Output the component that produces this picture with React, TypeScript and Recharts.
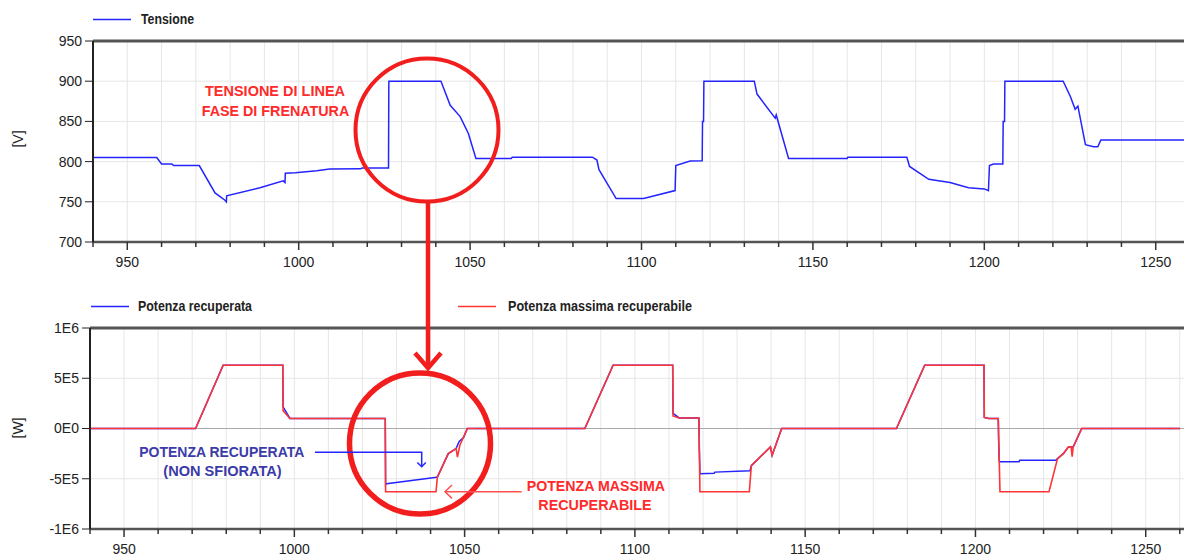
import React from "react"
import { LineChart, Line, XAxis, YAxis, CartesianGrid, ReferenceLine } from "recharts"

// time axis (s)
const xTicks = [
  940, 950, 960, 970, 980, 990, 1000, 1010, 1020, 1030, 1040, 1050, 1060, 1070, 1080, 1090, 1100,
  1110, 1120, 1130, 1140, 1150, 1160, 1170, 1180, 1190, 1200, 1210, 1220, 1230, 1240, 1250, 1260,
]
const xLabels = [950, 1000, 1050, 1100, 1150, 1200, 1250]

const vTicks = [700, 750, 800, 850, 900, 950]
const wTicks = [-1e6, -5e5, 0, 5e5, 1e6]
const wLabels = ["-1E6", "-5E5", "0E0", "5E5", "1E6"]

// [time, V]
const tensione: [number, number][] = [
  [940, 805], [958.6, 805], [960, 797], [963, 797], [963.5, 795], [971, 795], [975.6, 761],
  [978.5, 752], [978.9, 750], [979, 757.5], [988.7, 767.5], [995.5, 776], [996, 774],
  [996.1, 785.5], [999, 786], [1005.3, 788.7], [1009, 790.8], [1018, 791], [1018.5, 792],
  [1026.2, 792], [1026.3, 900], [1041.5, 900], [1044.2, 870], [1047.1, 856], [1049.5, 835],
  [1051.7, 804], [1062, 804], [1062.3, 805.5], [1085.7, 805.5], [1087, 802], [1087.6, 790],
  [1092.6, 754], [1100.6, 754], [1109.8, 764], [1110, 795], [1114.2, 800.7], [1117.7, 801],
  [1117.8, 850], [1118.1, 850], [1118.2, 900], [1132.9, 900], [1133.7, 884], [1139, 854],
  [1139.3, 858], [1142.9, 804], [1160, 804], [1160.2, 805.5], [1177.4, 805.5], [1178.2, 794],
  [1183.8, 778], [1190, 774], [1195.4, 767.5], [1200, 766], [1201.2, 763.8], [1201.5, 795],
  [1202.7, 797], [1205.4, 797], [1205.5, 850], [1205.9, 850], [1206, 900], [1223, 900],
  [1225.1, 881], [1226.5, 865], [1227.3, 869], [1229.5, 821], [1231.9, 818.5], [1233.1, 818.5],
  [1234, 827], [1260, 827],
]

// [time, W]
const potenzaRecuperata: [number, number][] = [
  [940, 0], [971, 0], [979.1, 6.3e5], [996.6, 6.3e5], [996.7, 2.16e5], [998.7, 1.0e5],
  [1026.7, 1.0e5], [1026.8, -5.6e5], [1027.1, -5.5e5], [1041.8, -4.84e5], [1042, -4.84e5],
  [1045.2, -2.5e5], [1047.5, -2.0e5], [1048.4, -1.3e5], [1049.7, -0.9e5], [1050.8, 0],
  [1085.3, 0], [1093.6, 6.3e5], [1111.1, 6.3e5], [1111.2, 1.5e5], [1113, 1.05e5],
  [1118.8, 1.05e5], [1118.9, -1.8e5], [1119, -3.0e5], [1119.1, -4.5e5], [1123.3, -4.45e5],
  [1123.5, -4.34e5], [1133.8, -4.2e5], [1134.2, -3.7e5], [1139.8, -1.83e5], [1140.3, -2.66e5],
  [1143.1, 0], [1176.8, 0], [1185.1, 6.3e5], [1202.5, 6.3e5], [1202.6, 1.1e5], [1203.9, 1.0e5],
  [1206.7, 1.0e5], [1206.8, -1.2e5], [1207, -3.3e5], [1212.8, -3.3e5], [1213, -3.17e5],
  [1223.6, -3.17e5], [1224.1, -3.0e5], [1225.8, -2.5e5], [1227.3, -1.83e5], [1228.7, -1.83e5],
  [1231.2, 0], [1260, 0],
]

const potenzaMassima: [number, number][] = [
  [940, 0], [971, 0], [979.1, 6.3e5], [996.6, 6.3e5], [996.7, 1.76e5], [998.7, 1.0e5],
  [1026.7, 1.0e5], [1026.8, -6.3e5], [1041.6, -6.3e5], [1042, -4.84e5], [1045.2, -2.5e5],
  [1047.5, -2.0e5], [1047.9, -2.84e5], [1048.6, -1.67e5], [1050.8, 0], [1085.3, 0],
  [1093.6, 6.3e5], [1111.1, 6.3e5], [1111.2, 1.25e5], [1113, 1.05e5], [1118.8, 1.05e5],
  [1119.1, -6.3e5], [1133.6, -6.3e5], [1134.2, -3.7e5], [1139.8, -1.83e5], [1140.3, -2.66e5],
  [1143.1, 0], [1176.8, 0], [1185.1, 6.3e5], [1202.5, 6.3e5], [1202.6, 1.1e5], [1203.9, 1.0e5],
  [1206.7, 1.0e5], [1207.2, -6.3e5], [1221.6, -6.3e5], [1224.1, -3.0e5], [1225.8, -2.5e5],
  [1227.3, -1.83e5], [1228.1, -1.83e5], [1228.4, -2.8e5], [1228.7, -1.83e5], [1231.2, 0],
  [1260, 0],
]

const toRows = (pts: [number, number][]) => pts.map(([t, v]) => ({ t, v }))

const FONT = "'Liberation Sans', Arial, sans-serif"
const BLUE = "#2424ff"
const RED = "#ff3434"

function XTick(props: any) {
  const { x, y, payload } = props
  const major = xLabels.includes(payload.value)
  return (
    <g>
      <line x1={x} x2={x} y1={y} y2={y + (major ? 8 : 5)} stroke="#333" strokeWidth={1.5} />
      {major && (
        <text x={x} y={y + 24.5} textAnchor="middle" fontSize={14} fill="#222" fontFamily={FONT}>
          {payload.value}
        </text>
      )}
    </g>
  )
}

export default function App() {
  return (
    <div style={{ position: "relative", width: 1184, height: 556, overflow: "hidden", background: "#fff", fontFamily: FONT }}>
      <style>{`body{margin:0}`}</style>

      <div style={{ position: "absolute", left: 0, top: 0 }}>
        <LineChart width={1190} height={272} margin={{ top: 41, right: 0, left: 0, bottom: 0 }}>
          <CartesianGrid stroke="#e6e6e6" />
          <XAxis
            type="number"
            dataKey="t"
            domain={[940, 1260]}
            ticks={xTicks}
            interval={0}
            allowDataOverflow
            tick={<XTick />}
            tickLine={false}
            tickSize={0}
            tickMargin={0}
            axisLine={{ stroke: "#555", strokeWidth: 2.5 }}
          />
          <YAxis
            type="number"
            width={93}
            domain={[700, 950]}
            ticks={vTicks}
            interval={0}
            tickSize={8}
            tickMargin={3}
            tick={{ fontSize: 14, fill: "#222", fontFamily: FONT }}
            tickLine={{ stroke: "#222" }}
            axisLine={{ stroke: "#222", strokeWidth: 2 }}
          />
          <ReferenceLine y={950} stroke="#555" strokeWidth={3} />
          <Line data={toRows(tensione)} dataKey="v" type="linear" stroke={BLUE} strokeWidth={1.5} dot={false} isAnimationActive={false} />
        </LineChart>
      </div>

      <div style={{ position: "absolute", left: 0, top: 290 }}>
        <LineChart width={1190} height={269} margin={{ top: 38, right: 0, left: 0, bottom: 0 }}>
          <CartesianGrid stroke="#e6e6e6" />
          <XAxis
            type="number"
            dataKey="t"
            domain={[940, 1263]}
            ticks={xTicks}
            interval={0}
            allowDataOverflow
            tick={<XTick />}
            tickLine={false}
            tickSize={0}
            tickMargin={0}
            axisLine={{ stroke: "#555", strokeWidth: 2.5 }}
          />
          <YAxis
            type="number"
            width={90}
            domain={[-1e6, 1e6]}
            ticks={wTicks}
            interval={0}
            tickFormatter={(v: number) => wLabels[wTicks.indexOf(v)]}
            tickSize={8}
            tickMargin={3}
            tick={{ fontSize: 14, fill: "#222", fontFamily: FONT }}
            tickLine={{ stroke: "#222" }}
            axisLine={{ stroke: "#222", strokeWidth: 2 }}
          />
          <ReferenceLine y={0} stroke="#aaa" strokeWidth={1} />
          <ReferenceLine y={1e6} stroke="#555" strokeWidth={3} />
          <Line data={toRows(potenzaRecuperata)} dataKey="v" type="linear" stroke={BLUE} strokeWidth={1.5} dot={false} isAnimationActive={false} />
          <Line data={toRows(potenzaMassima)} dataKey="v" type="linear" stroke={RED} strokeWidth={1.6} dot={false} isAnimationActive={false} />
        </LineChart>
      </div>

      {/* legends, axis units and annotations */}
      <svg width={1184} height={556} style={{ position: "absolute", left: 0, top: 0, pointerEvents: "none" }} fontFamily={FONT}>
        <line x1={93} y1={19.5} x2={131} y2={19.5} stroke={BLUE} strokeWidth={1.5} />
        <text x={141} y={23.5} fontSize={14} fontWeight="bold" fill="#222" textLength={53} lengthAdjust="spacingAndGlyphs">Tensione</text>

        <line x1={91} y1={306.5} x2={129} y2={306.5} stroke={BLUE} strokeWidth={1.5} />
        <text x={138} y={311} fontSize={14} fontWeight="bold" fill="#222" textLength={114} lengthAdjust="spacingAndGlyphs">Potenza recuperata</text>
        <line x1={458} y1={306.5} x2={496} y2={306.5} stroke={RED} strokeWidth={1.5} />
        <text x={508} y={311} fontSize={14} fontWeight="bold" fill="#222" textLength={184} lengthAdjust="spacingAndGlyphs">Potenza massima recuperabile</text>

        <text transform="translate(18.5,139) rotate(-90)" textAnchor="middle" dy="0.35em" fontSize={14} fill="#222">[V]</text>
        <text transform="translate(18.5,428) rotate(-90)" textAnchor="middle" dy="0.35em" fontSize={14} fill="#222">[W]</text>

        <g fill="#ff2a2a" fontSize={15} fontWeight="bold">
          <text x={205} y={96} textLength={140} lengthAdjust="spacingAndGlyphs">TENSIONE DI LINEA</text>
          <text x={201.7} y={116} textLength={147.6} lengthAdjust="spacingAndGlyphs">FASE DI FRENATURA</text>
          <text x={526.7} y={490.7} textLength={138.3} lengthAdjust="spacingAndGlyphs">POTENZA MASSIMA</text>
          <text x={538.3} y={510} textLength={113.3} lengthAdjust="spacingAndGlyphs">RECUPERABILE</text>
        </g>
        <g fill="#3b3ba8" fontSize={15} fontWeight="bold">
          <text x={139.3} y={456.7} textLength={165} lengthAdjust="spacingAndGlyphs">POTENZA RECUPERATA</text>
          <text x={163.3} y={476} textLength={118.4} lengthAdjust="spacingAndGlyphs">(NON SFIORATA)</text>
        </g>

        <circle cx={427} cy={130} r={71.5} fill="none" stroke="#f21d1d" strokeWidth={4} />
        <line x1={428} y1={202} x2={428} y2={368} stroke="#f21d1d" strokeWidth={4.5} />
        <polyline points="415,353 428,368 441,353" fill="none" stroke="#f21d1d" strokeWidth={4.5} />
        <circle cx={420} cy={443.5} r={70.5} fill="none" stroke="#f21d1d" strokeWidth={5.5} />

        <polyline points="315,452.3 421.7,452.3 421.7,466.5" fill="none" stroke={BLUE} strokeWidth={1.5} />
        <polyline points="417.3,462.5 421.7,466.7 425.8,462.5" fill="none" stroke={BLUE} strokeWidth={1.5} />

        <line x1={521.7} y1={491.7} x2={445} y2={491.7} stroke="#ff5050" strokeWidth={1.5} />
        <polyline points="452,485 445,491.7 452,498.4" fill="none" stroke="#ff5050" strokeWidth={1.5} />
      </svg>
    </div>
  )
}
